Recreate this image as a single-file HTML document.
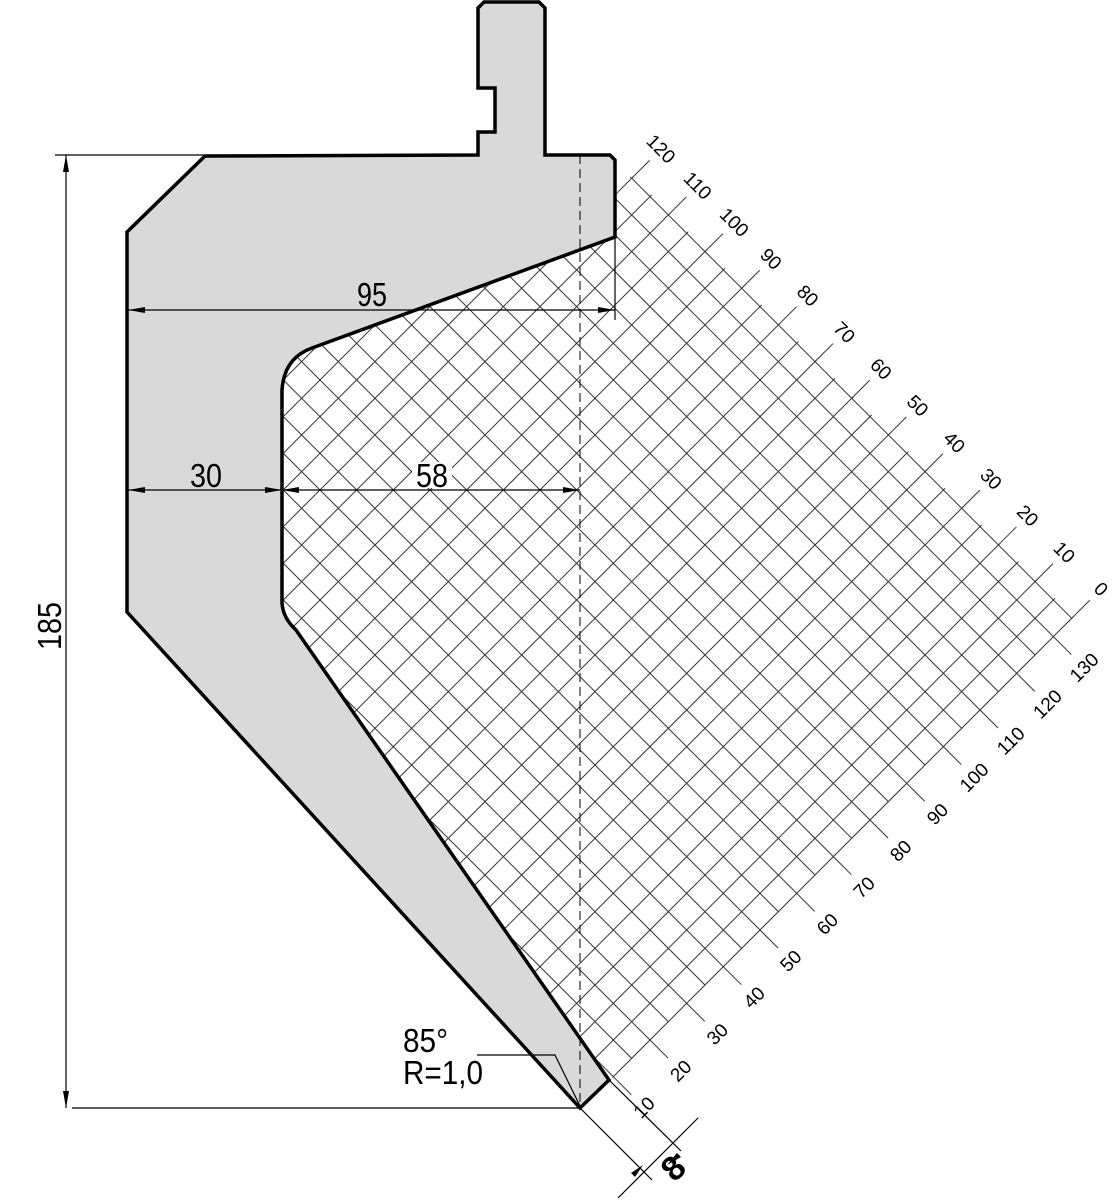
<!DOCTYPE html>
<html><head><meta charset="utf-8"><style>html,body{margin:0;padding:0;background:#fff;overflow:hidden;width:1112px;height:1200px}svg{display:block}text{font-family:"Liberation Sans Narrow","Liberation Sans",sans-serif;fill:#000}</style></head>
<body>
<svg width="1112" height="1200" viewBox="0 0 1112 1200" xmlns="http://www.w3.org/2000/svg">
<defs>
<clipPath id="gc" clipPathUnits="userSpaceOnUse">
<polygon points="631.7,175 1075,618.3 614,1079 200,660 200,160 615,160 615,195"/>
</clipPath>
</defs>
<g clip-path="url(#gc)">
<g transform="translate(1071.7,618.3) rotate(45)" stroke="#333" stroke-width="1" fill="none">
<path d="M0,-400 v1400 m-25.93,-1400 v1400 m-25.93,-1400 v1400 m-25.93,-1400 v1400 m-25.93,-1400 v1400 m-25.93,-1400 v1400 m-25.93,-1400 v1400 m-25.93,-1400 v1400 m-25.93,-1400 v1400 m-25.93,-1400 v1400 m-25.93,-1400 v1400 m-25.93,-1400 v1400 m-25.93,-1400 v1400 m-25.93,-1400 v1400 m-25.93,-1400 v1400 m-25.93,-1400 v1400 m-25.93,-1400 v1400 m-25.93,-1400 v1400 m-25.93,-1400 v1400 m-25.93,-1400 v1400 m-25.93,-1400 v1400 m-25.93,-1400 v1400 m-25.93,-1400 v1400 m-25.93,-1400 v1400 m-25.93,-1400 v1400 m-25.93,-1400 v1400 m-25.93,-1400 v1400 m-25.93,-1400 v1400 m-25.93,-1400 v1400 m-25.93,-1400 v1400 m-25.93,-1400 v1400 m-25.93,-1400 v1400 m-25.93,-1400 v1400 m-25.93,-1400 v1400 m-25.93,-1400 v1400 m-25.93,-1400 v1400 m-25.93,-1400 v1400 m-25.93,-1400 v1400 m-25.93,-1400 v1400 m-25.93,-1400 v1400"/>
<path d="M0,0 h-1000 m1000,25.93 h-1000 m1000,25.93 h-1000 m1000,25.93 h-1000 m1000,25.93 h-1000 m1000,25.93 h-1000 m1000,25.93 h-1000 m1000,25.93 h-1000 m1000,25.93 h-1000 m1000,25.93 h-1000 m1000,25.93 h-1000 m1000,25.93 h-1000 m1000,25.93 h-1000 m1000,25.93 h-1000 m1000,25.93 h-1000 m1000,25.93 h-1000 m1000,25.93 h-1000 m1000,25.93 h-1000 m1000,25.93 h-1000 m1000,25.93 h-1000 m1000,25.93 h-1000 m1000,25.93 h-1000 m1000,25.93 h-1000 m1000,25.93 h-1000 m1000,25.93 h-1000 m1000,25.93 h-1000"/>
</g>
</g>
<g transform="translate(1071.7,618.3) rotate(45)">
<path stroke="#333" stroke-width="1" fill="none" d="M0,-25.5 v25.5 m-51.86,-25.5 v25.5 m-51.86,-25.5 v25.5 m-51.86,-25.5 v25.5 m-51.86,-25.5 v25.5 m-51.86,-25.5 v25.5 m-51.86,-25.5 v25.5 m-51.86,-25.5 v25.5 m-51.86,-25.5 v25.5 m-51.86,-25.5 v25.5 m-51.86,-25.5 v25.5 m-51.86,-25.5 v25.5 m-51.86,-25.5 v25.5"/>
<path stroke="#333" stroke-width="1" fill="none" d="M0,25.93 h25.5 m-25.5,51.86 h25.5 m-25.5,51.86 h25.5 m-25.5,51.86 h25.5 m-25.5,51.86 h25.5 m-25.5,51.86 h25.5 m-25.5,51.86 h25.5 m-25.5,51.86 h25.5 m-25.5,51.86 h25.5 m-25.5,51.86 h25.5 m-25.5,51.86 h25.5 m-25.5,51.86 h25.5 m-25.5,51.86 h25.5"/>
<g font-size="19" text-anchor="middle">
<text x="0" y="-35">0</text>
<text x="-51.86" y="-35">10</text>
<text x="-103.72" y="-35">20</text>
<text x="-155.58" y="-35">30</text>
<text x="-207.44" y="-35">40</text>
<text x="-259.3" y="-35">50</text>
<text x="-311.16" y="-35">60</text>
<text x="-363.02" y="-35">70</text>
<text x="-414.88" y="-35">80</text>
<text x="-466.74" y="-35">90</text>
<text x="-518.6" y="-35">100</text>
<text x="-570.46" y="-35">110</text>
<text x="-622.32" y="-35">120</text>
</g>
<g font-size="19" text-anchor="middle">
<text transform="translate(50,25.93) rotate(-90)">130</text>
<text transform="translate(50,77.79) rotate(-90)">120</text>
<text transform="translate(50,129.65) rotate(-90)">110</text>
<text transform="translate(50,181.51) rotate(-90)">100</text>
<text transform="translate(50,233.37) rotate(-90)">90</text>
<text transform="translate(50,285.23) rotate(-90)">80</text>
<text transform="translate(50,337.09) rotate(-90)">70</text>
<text transform="translate(50,388.95) rotate(-90)">60</text>
<text transform="translate(50,440.81) rotate(-90)">50</text>
<text transform="translate(50,492.67) rotate(-90)">40</text>
<text transform="translate(50,544.53) rotate(-90)">30</text>
<text transform="translate(50,596.39) rotate(-90)">20</text>
<text transform="translate(50,648.25) rotate(-90)">10</text>
</g>
</g>
<path fill="#d9d9d9" stroke="#000" stroke-width="3.5" stroke-linejoin="miter" d="M478,155 L478,132 L495,132 L495,88 L478,88 L478,8 L484,2 L539,2 L545,8 L545,155 L610,155 L615,160 L615,237 L312,348 Q284,358 282,390 L282,603 Q283,618 296,630 L609,1080 L580,1108 L127,612 L127,232 L205,156 Z"/>
<line x1="580" y1="155" x2="580" y2="1108" stroke="#000" stroke-width="1" stroke-dasharray="9,5"/>
<g stroke="#000" stroke-width="1.2" fill="none">
<line x1="55" y1="155" x2="205" y2="155"/>
<line x1="72" y1="1108" x2="580" y2="1108"/>
<line x1="66" y1="155" x2="66" y2="1108"/>
<line x1="128" y1="310" x2="615" y2="310"/>
<line x1="615" y1="237" x2="615" y2="320"/>
<line x1="128" y1="490" x2="282" y2="490"/>
<line x1="282" y1="490" x2="580" y2="490"/>
<polyline points="477,1055 555,1055 580,1106"/>
<line x1="580" y1="1108" x2="652" y2="1180"/>
<line x1="609" y1="1080" x2="681" y2="1151"/>
<line x1="618" y1="1198" x2="698" y2="1118"/>
</g>
<g fill="#000">
<polygon points="66,155 63,172 69,172"/>
<polygon points="66,1108 63,1091 69,1091"/>
<polygon points="128,310 145,307 145,313"/>
<polygon points="615,310 598,307 598,313"/>
<polygon points="128,490 145,487 145,493"/>
<polygon points="282,490 265,487 265,493"/>
<polygon points="282,490 299,487 299,493"/>
<polygon points="580,490 563,487 563,493"/>
<polygon points="643,1165 631,1173 635,1177"/>
<polygon points="667,1165 677,1153 681,1157"/>
</g>
<rect x="412" y="462" width="40" height="26" fill="#fff"/>
<text x="372" y="306" font-size="33" text-anchor="middle" textLength="30" lengthAdjust="spacingAndGlyphs">95</text>
<text x="206" y="487" font-size="33" text-anchor="middle" textLength="32" lengthAdjust="spacingAndGlyphs">30</text>
<text x="432" y="487" font-size="33" text-anchor="middle" textLength="32" lengthAdjust="spacingAndGlyphs">58</text>
<text transform="translate(61,626) rotate(-90)" font-size="33" text-anchor="middle" textLength="48" lengthAdjust="spacingAndGlyphs">185</text>
<text x="403" y="1052" font-size="33" textLength="45" lengthAdjust="spacingAndGlyphs">85°</text>
<text x="403" y="1084" font-size="33" textLength="80" lengthAdjust="spacingAndGlyphs">R=1,0</text>
<text transform="translate(673,1168) rotate(-45)" font-size="34" font-weight="bold" text-anchor="middle" y="12">8</text>
</svg>
</body></html>
